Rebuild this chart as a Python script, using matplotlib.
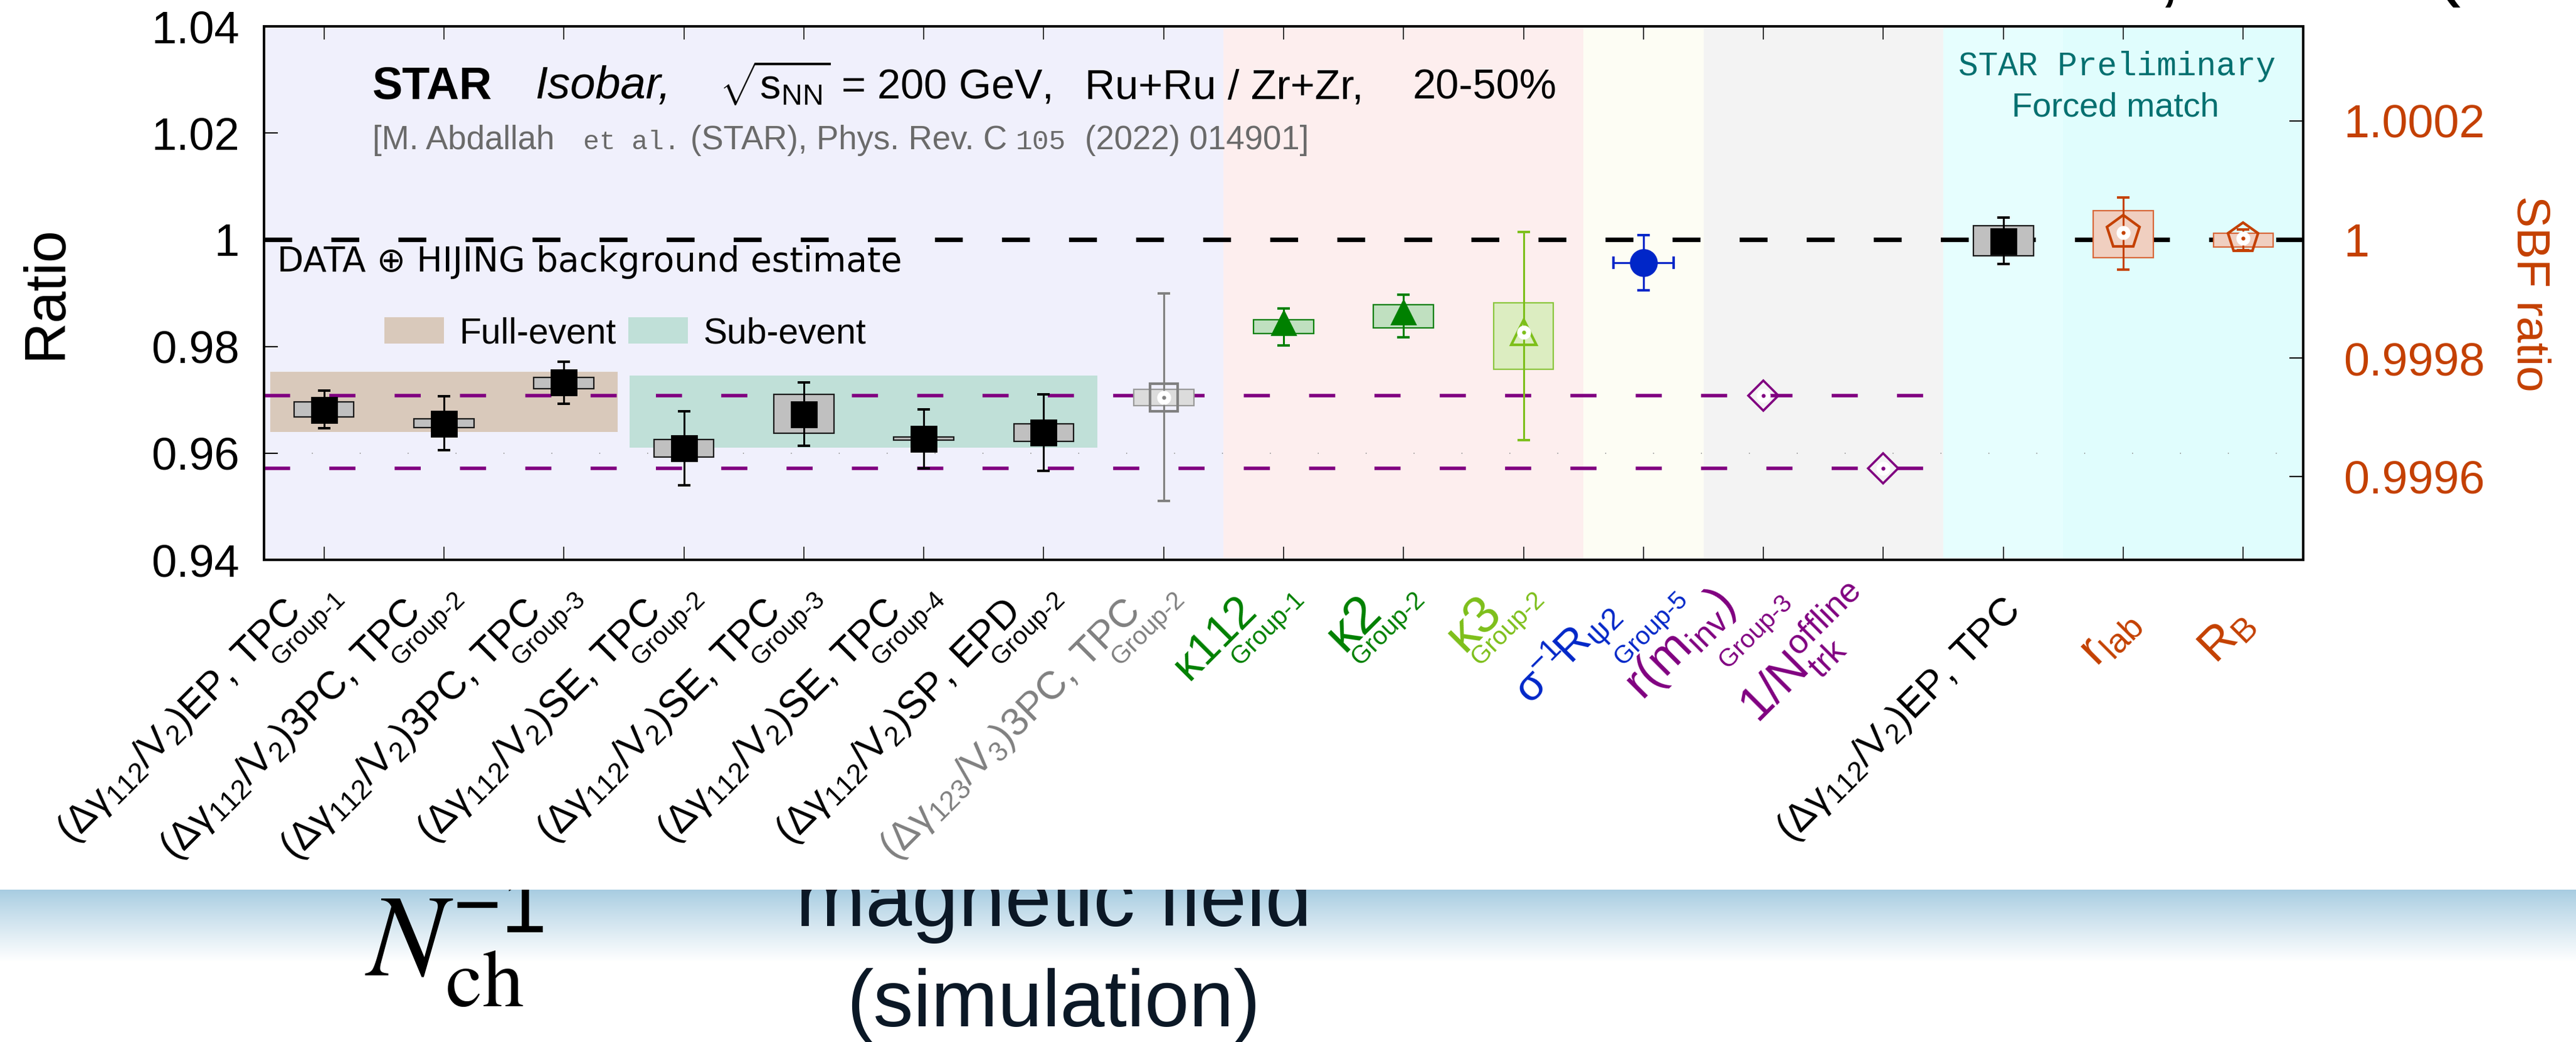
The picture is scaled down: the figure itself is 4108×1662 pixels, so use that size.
import numpy as np
import matplotlib
matplotlib.use("Agg")
import matplotlib.pyplot as plt
from matplotlib.patches import Rectangle, Patch
from matplotlib.ticker import FixedLocator, FuncFormatter
from matplotlib.transforms import ScaledTranslation

plt.rcParams.update({
    "font.family": ["Liberation Sans", "DejaVu Sans"],
    "mathtext.fontset": "custom",
    "mathtext.rm": "Liberation Sans",
    "mathtext.it": "Liberation Sans:italic",
    "mathtext.bf": "Liberation Sans:bold",
    "mathtext.default": "regular",
    "lines.scale_dashes": False,
})

W, H, DPI = 4108, 1662, 100

# ---------------- data ----------------
categories = [
    r"$(\Delta\gamma_{112}/V_{2})\mathrm{EP,\,TPC}$",
    r"$(\Delta\gamma_{112}/V_{2})\mathrm{3PC,\,TPC}$",
    r"$(\Delta\gamma_{112}/V_{2})\mathrm{3PC,\,TPC}$",
    r"$(\Delta\gamma_{112}/V_{2})\mathrm{SE,\,TPC}$",
    r"$(\Delta\gamma_{112}/V_{2})\mathrm{SE,\,TPC}$",
    r"$(\Delta\gamma_{112}/V_{2})\mathrm{SE,\,TPC}$",
    r"$(\Delta\gamma_{112}/V_{2})\mathrm{SP,\,EPD}$",
    r"$(\Delta\gamma_{123}/V_{3})\mathrm{3PC,\,TPC}$",
    r"$\kappa112$",
    r"$\kappa2$",
    r"$\kappa3$",
    r"$\sigma^{-1}\!R_{\psi2}$",
    r"$r(m_{inv})$",
    r"$1/N^{offline}_{trk}$",
    r"$(\Delta\gamma_{112}/V_{2})\mathrm{EP,\,TPC}$",
    r"$r_{lab}$",
    r"$R_{B}$",
]
category_groups = ["Group-1", "Group-2", "Group-3", "Group-2", "Group-3", "Group-4",
                   "Group-2", "Group-2", "Group-1", "Group-2", "Group-2", "Group-5",
                   "Group-3", "", "", "", ""]
category_colors = ["black"] * 7 + ["#808080", "#008000", "#008000", "#7dbf1a",
                                   "#0026c8", "#800080", "#800080", "black",
                                   "#c44000", "#c44000"]

# left-axis (Ratio) quantities, categories 0..14
ratio_values = [0.9681, 0.9655, 0.9732, 0.9609, 0.9673, 0.9627, 0.9639, 0.9704,
                0.9844, 0.9864, 0.9826, 0.9957, 0.9708, 0.9572, 0.9997]
stat_low = [0.9647, 0.9606, 0.9693, 0.9540, 0.9614, 0.9572, 0.9567, 0.9510,
            0.9802, 0.9817, 0.9624, 0.9905, np.nan, np.nan, 0.9955]
stat_high = [0.9717, 0.9707, 0.9771, 0.9678, 0.9733, 0.9682, 0.9710, 0.9899,
             0.9871, 0.9897, 1.0015, 1.0009, np.nan, np.nan, 1.0042]
syst_low = [0.9668, 0.9648, 0.9721, 0.9593, 0.9637, 0.9624, 0.9622, 0.9689,
            0.9824, 0.9835, 0.9757, np.nan, np.nan, np.nan, 0.9970]
syst_high = [0.9696, 0.9664, 0.9742, 0.9626, 0.9710, 0.9630, 0.9655, 0.9720,
             0.9850, 0.9878, 0.9882, np.nan, np.nan, np.nan, 1.0026]

# right-axis (SBF ratio) quantities, categories 15, 16
sbf_index = [15, 16]
sbf_values = [1.0000119, 1.0000021]
sbf_stat_low = [0.9999493, 0.9999820]
sbf_stat_high = [1.0000708, 1.0000172]
sbf_syst_low = [0.9999694, 0.9999873]
sbf_syst_high = [1.0000489, 1.0000109]

y_ticks_left = [0.94, 0.96, 0.98, 1.00, 1.02, 1.04]
y_ticks_right = [0.9996, 0.9998, 1.0, 1.0002]
unity = 1.0
full_event_box = (-0.45, 2.45, 0.9640, 0.9752)
sub_event_box = (2.55, 6.45, 0.9610, 0.9745)
purple_ref_levels = [ratio_values[12], ratio_values[13]]

# ---------------- styles ----------------
ORANGE = "#c44000"
band_spans = [(-0.5, 7.5, "#f0f0fc"), (7.5, 10.5, "#fdeeee"), (10.5, 11.5, "#fdfdf4"),
              (11.5, 13.5, "#f3f3f3"), (13.5, 14.5, "#e6fefe"), (14.5, 16.5, "#e0fdfd")]

def sty(marker, color, ms, open_=False, box_fc=None, box_ec=None, mew=2.0):
    return dict(marker=marker, color=color, ms=ms, open=open_, box_fc=box_fc, box_ec=box_ec, mew=mew)

styles = ([sty("s", "black", 29, box_fc="#c0c0c0", box_ec="#1a1a1a")] * 7 +
          [sty("s", "#808080", 31, True, "#dcdcdc", "#9a9a9a", 3.0),
           sty("^", "#008000", 28, False, "#c0e0c0", "#008000"),
           sty("^", "#008000", 28, False, "#c0e0c0", "#008000"),
           sty("^", "#7dbf1a", 29, True, "#dcedc1", "#8cc63f", 3.0),
           sty("o", "#0026c8", 30),
           sty("D", "#800080", 24, True, mew=2.6),
           sty("D", "#800080", 24, True, mew=2.6),
           sty("s", "black", 29, box_fc="#c0c0c0", box_ec="#1a1a1a")])
sbf_styles = [sty("p", ORANGE, 40, True, "#f0cfc0", "#d8683a", 3.0),
              sty("p", ORANGE, 36, True, "#f0cfc0", "#d8683a", 3.0)]
label_sizes = [45] * 8 + [52, 60, 60, 50, 56, 56, 45, 56, 54]
GROUP_SIZE = 29
# where each rotated label's right edge / top edge sits (px right of its tick, px from top)
main_targets = [(-32, 948)] * 8 + [(-38, 947), (-29, 945), (-29, 945), (-28, 942),
                                   (-38, 930), (-3, 920), (32, 946), (31, 957), (22, 962)]
group_targets = [(35, 940)] * 11 + [(72, 940), (47, 945)] + [None] * 4

fig = plt.figure(figsize=(W / DPI, H / DPI), dpi=DPI)
fig.patch.set_facecolor("white")

def fx(px):
    return px / W

def fy(py):
    return 1 - py / H

ax = fig.add_axes([fx(421), fy(893), (3673 - 421) / W, (893 - 42) / H])
ax.set_xlim(-0.5, 16.5)
ax.set_ylim(0.94, 1.04)
ax.set_facecolor("white")

for lo, hi, c in band_spans:
    ax.axvspan(lo, hi, color=c, lw=0, zorder=0)

for (x0, x1, y0, y1), c in [(full_event_box, "#d9c9bb"), (sub_event_box, "#c0e0d8")]:
    ax.add_patch(Rectangle((x0, y0), x1 - x0, y1 - y0, fc=c, ec="none", zorder=1))

xl = ax.get_xlim()
ax.plot(xl, [unity, unity], color="black", lw=5.2, ls=(0, (32, 45)), zorder=2)
for lvl in purple_ref_levels:
    ax.plot([xl[0], 13.5], [lvl, lvl], color="#800080", lw=4.0, ls=(0, (30, 45)), zorder=2)
ax.plot(xl, [0.96, 0.96], color="#888888", lw=1.2, ls=(0, (1, 54)), zorder=1.5)

def draw_point(a, x, v, slo, shi, elo, ehi, st, xerr=None):
    c = st["color"]
    if st["box_fc"] is not None and not np.isnan(slo):
        a.add_patch(Rectangle((x - 0.25, slo), 0.5, shi - slo, fc=st["box_fc"],
                              ec=st["box_ec"], lw=1.6, zorder=3))
    if not np.isnan(elo):
        a.errorbar([x], [v], yerr=[[v - elo], [ehi - v]], xerr=xerr, fmt="none",
                   ecolor=c, elinewidth=2.2, capsize=7.5, capthick=2.8, zorder=4)
    if st["open"]:
        a.plot([x], [v], marker=st["marker"], ms=st["ms"], mfc="none", mec=c,
               mew=st["mew"], ls="none", zorder=5)
        a.plot([x], [v], marker="o", ms=15, mfc="white", mec="white", ls="none", zorder=6)
        a.plot([x], [v], marker="o", ms=3.5, mfc=c, mec=c, ls="none", zorder=7)
    else:
        a.plot([x], [v], marker=st["marker"], ms=st["ms"], mfc=c, mec=c,
               mew=st["mew"], ls="none", zorder=5)

for i, v in enumerate(ratio_values):
    xe = [[0.25], [0.25]] if styles[i]["marker"] == "o" else None
    draw_point(ax, i, v, syst_low[i], syst_high[i], stat_low[i], stat_high[i], styles[i], xe)

# axes cosmetics
ax.xaxis.set_major_locator(FixedLocator(range(len(categories))))
ax.tick_params(axis="x", which="both", direction="in", length=15, width=1.1,
               top=True, bottom=True, labelbottom=False)
ax.yaxis.set_major_locator(FixedLocator(y_ticks_left))
ax.yaxis.set_major_formatter(FuncFormatter(lambda v, p: "1" if abs(v - 1) < 1e-9 else f"{v:.2f}"))
ax.tick_params(axis="y", direction="in", length=16, width=1.5, labelsize=52, pad=28,
               left=True, right=False)
for s in ax.spines.values():
    s.set_linewidth(2.6)

ax2 = ax.twinx()
ax2.set_ylim(0.99946, 1.000359)
for i, xi in enumerate(sbf_index):
    draw_point(ax2, xi, sbf_values[i], sbf_syst_low[i], sbf_syst_high[i],
               sbf_stat_low[i], sbf_stat_high[i], sbf_styles[i])
ax2.yaxis.set_major_locator(FixedLocator(y_ticks_right))
ax2.yaxis.set_major_formatter(FuncFormatter(lambda v, p: "1" if abs(v - 1) < 1e-12 else f"{v:.4f}"))
ax2.tick_params(axis="y", direction="in", length=16, width=1.5, labelsize=53, pad=46,
                colors="black")
ax2.tick_params(axis="y", labelcolor=ORANGE)
for s in ax2.spines.values():
    s.set_linewidth(2.6)

# category labels: rotated main text plus a small "Group" line beside its end
renderer = fig.canvas.get_renderer()
xt = ax.get_xaxis_transform()

def place(txt, right_px, top_px):
    bb = txt.get_window_extent(renderer)
    dx = right_px - bb.x1
    dy = (H - top_px) - bb.y1
    txt.set_transform(txt.get_transform() +
                      ScaledTranslation(dx / DPI, dy / DPI, fig.dpi_scale_trans))

for i, (lab, grp, col) in enumerate(zip(categories, category_groups, category_colors)):
    tick_px = ax.transData.transform((i, 0))[0]
    t_main = ax.text(i, 0, lab, transform=xt, rotation=45, rotation_mode="anchor",
                     ha="right", va="top", color=col, fontsize=label_sizes[i], clip_on=False)
    mdx, mty = main_targets[i]
    place(t_main, tick_px + mdx + 8, mty - 3)
    if grp:
        t_grp = ax.text(i, 0, grp, transform=xt, rotation=45, rotation_mode="anchor",
                        ha="right", va="top", color=col, fontsize=GROUP_SIZE, clip_on=False)
        gdx, gty = group_targets[i]
        place(t_grp, tick_px + gdx + 6, gty - 3)

# legend
leg = ax.legend([Patch(fc="#d9c9bb", ec="none"), Patch(fc="#c0e0d8", ec="none")],
                ["Full-event", "Sub-event"], loc="center left",
                bbox_to_anchor=((613 - 421) / 3252, (893 - 532) / 851), ncol=2,
                frameon=False, fontsize=41, handlelength=1.67, handleheight=0.75,
                handletextpad=0.42, columnspacing=0.35, borderpad=0, borderaxespad=0)
leg.set_zorder(8)

# texts
fig.text(fx(594), fy(157), "STAR", fontsize=52, fontweight="bold", va="baseline")
fig.text(fx(853), fy(157), "Isobar,", fontsize=52, style="italic", va="baseline")
fig.text(fx(1147), fy(157), r"$\sqrt{s_{NN}}$ = 200 GeV,", fontsize=48, va="baseline")
fig.text(fx(1730), fy(157), "Ru+Ru / Zr+Zr,", fontsize=48, va="baseline")
fig.text(fx(2253), fy(157), "20-50%", fontsize=48, va="baseline")

GR = "#6a6a6a"
fig.text(fx(594), fy(238), "[M. Abdallah", fontsize=38, color=GR, va="baseline")
fig.text(fx(930), fy(238), "et al.", fontsize=31, color=GR, va="baseline", family="Liberation Mono")
fig.text(fx(1101), fy(238), "(STAR), Phys. Rev. C", fontsize=38, color=GR, va="baseline")
fig.text(fx(1620), fy(238), "105", fontsize=32, color=GR, va="baseline", family="Liberation Mono")
fig.text(fx(1730), fy(238), "(2022) 014901]", fontsize=38, color=GR, va="baseline")

fig.text(fx(442), fy(433), "DATA \u2295 HIJING background estimate", fontsize=39.5,
         va="baseline", family=["DejaVu Sans"])

TEAL = "#007070"
fig.text(fx(3376), fy(120), "STAR Preliminary", fontsize=38, color=TEAL, ha="center",
         va="baseline", family="Liberation Mono")
fig.text(fx(3373), fy(185), "Forced match", fontsize=39, color=TEAL, ha="center", va="baseline")

fig.text(fx(73), fy(466), "Ratio", rotation=90, fontsize=66, ha="center", va="center")
fig.text(fx(4034), fy(468), "SBF ratio", rotation=270, fontsize=54, ha="center",
         va="center", color=ORANGE)

# fragments of slide text cut by the top edge
fig.text(fx(3440), fy(-5), ",", fontsize=96, va="baseline")
fig.text(fx(3880), fy(-16), "(", fontsize=96, va="baseline")

# slide area below the chart
bg = fig.add_axes([0, 0, 1, (H - 1419) / H])
bg.set_xlim(0, W)
bg.set_ylim(H, 1419)
bg.axis("off")
rows = np.arange(1419, H)
t = np.clip((rows - 1419) / 115.0, 0, 1) ** 0.9
top = np.array([0.655, 0.800, 0.882])
grad = (top[None, :] * (1 - t[:, None]) + np.ones(3)[None, :] * t[:, None])[:, None, :]
bg.imshow(grad, extent=[0, W, H, 1419], aspect="auto", zorder=0, interpolation="bilinear")
NAVY = "#0b1826"
bg.text(1680, 1477, "magnetic field", fontsize=96, color=NAVY, ha="center", va="baseline", clip_on=True)
bg.text(1680, 1637, "(simulation)", fontsize=92, color=NAVY, ha="center", va="baseline", clip_on=True)
bg.text(582, 1557, r"$\mathit{N}_{\mathrm{ch}}^{-1}$", fontsize=135, math_fontfamily="stix",
        color="black", ha="left", va="baseline", clip_on=True)

fig.savefig("out.png", dpi=DPI, facecolor="white")
